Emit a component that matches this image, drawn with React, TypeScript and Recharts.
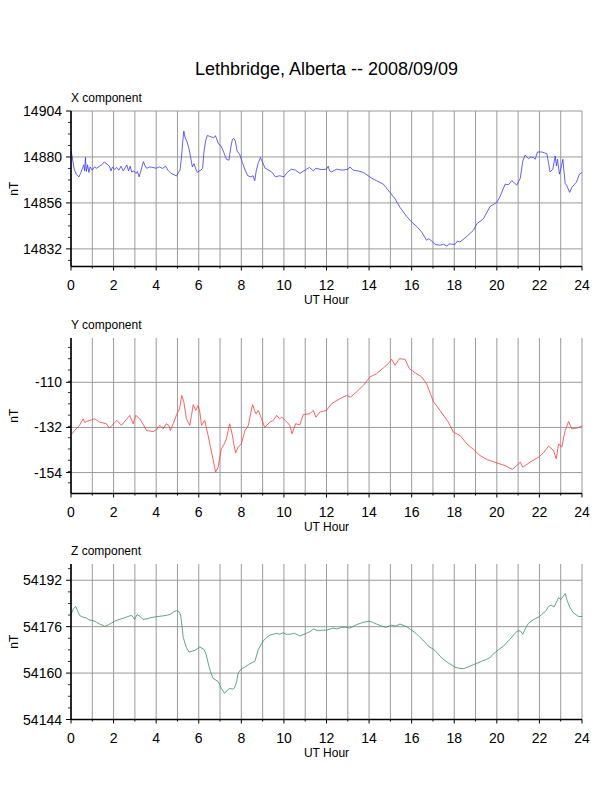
import { CartesianGrid, Line, LineChart, XAxis, YAxis } from "recharts";

const FONT = "'Liberation Sans', Arial, Helvetica, sans-serif";

const hourGrid = [0, 1, 2, 3, 4, 5, 6, 7, 8, 9, 10, 11, 12, 13, 14, 15, 16, 17, 18, 19, 20, 21, 22, 23, 24];
const hourLabels = [0, 2, 4, 6, 8, 10, 12, 14, 16, 18, 20, 22, 24];

// X component
const xHours = [
  0, 0.05, 0.15, 0.25, 0.37, 0.45, 0.55, 0.6, 0.64, 0.68, 0.72, 0.78, 0.84, 0.9, 1.0, 1.1, 1.2, 1.35, 1.45, 1.56,
  1.7, 1.8, 1.88, 1.95, 2.05, 2.15, 2.25, 2.35, 2.45, 2.55, 2.62, 2.7, 2.78, 2.85, 2.95, 3.05, 3.12, 3.2, 3.28, 3.4,
  3.48, 3.55, 3.7, 3.85, 4.0, 4.15, 4.3, 4.45, 4.55, 4.7, 4.85, 4.95, 5.05, 5.12, 5.18, 5.25, 5.3, 5.35, 5.45, 5.55,
  5.62, 5.7, 5.78, 5.85, 5.93, 6.02, 6.1, 6.18, 6.25, 6.32, 6.4, 6.5, 6.6, 6.7, 6.78, 6.85, 6.92, 7.05, 7.15, 7.3,
  7.42, 7.5, 7.58, 7.65, 7.72, 7.8, 7.92, 8.05, 8.18, 8.3, 8.45, 8.55, 8.63, 8.7, 8.8, 8.9, 9.0, 9.12, 9.3, 9.45,
  9.6, 9.8, 10.0, 10.15, 10.35, 10.55, 10.75, 11.06, 11.2, 11.38, 11.5, 11.75, 12.0, 12.08, 12.15, 12.24, 12.47,
  12.75, 13.02, 13.1, 13.26, 13.5, 13.73, 13.96, 14.12, 14.35, 14.67, 14.98, 15.22, 15.45, 15.77, 16.0, 16.24,
  16.47, 16.7, 16.8, 16.94, 17.1, 17.33, 17.5, 17.65, 17.8, 17.88, 18.04, 18.15, 18.27, 18.59, 18.9, 19.06, 19.37,
  19.68, 20.0, 20.15, 20.39, 20.55, 20.7, 20.85, 20.94, 21.1, 21.22, 21.33, 21.49, 21.6, 21.72, 21.8, 21.91, 22.11,
  22.25, 22.35, 22.5, 22.63, 22.74, 22.8, 22.85, 22.94, 23.02, 23.1, 23.21, 23.29, 23.42, 23.52, 23.73, 23.88, 24.0,
];
const xValues = [
  14883.1, 14880.5, 14873.6, 14871.0, 14869.6, 14871.4, 14874.5, 14875.9, 14872.7, 14879.7, 14872.4, 14875.9,
  14871.9, 14874.8, 14873.1, 14874.8, 14874.1, 14875.3, 14875.9, 14877.4, 14876.2, 14875.3, 14872.7, 14874.8,
  14873.4, 14874.5, 14873.1, 14875.2, 14872.7, 14874.5, 14875.9, 14872.7, 14875.2, 14872.1, 14872.7, 14871.4,
  14872.4, 14869.6, 14872.7, 14877.6, 14875.3, 14874.1, 14874.8, 14874.5, 14874.1, 14874.8, 14874.0, 14875.2,
  14873.1, 14871.4, 14870.7, 14870.0, 14871.9, 14873.1, 14878.8, 14888.3, 14893.5, 14890.4, 14887.9, 14884.0,
  14879.7, 14874.8, 14876.5, 14874.1, 14871.9, 14872.7, 14873.1, 14874.1, 14883.1, 14888.3, 14891.2, 14890.8,
  14890.4, 14890.0, 14891.1, 14889.2, 14886.9, 14885.7, 14883.1, 14878.8, 14878.3, 14884.8, 14889.2, 14889.7,
  14888.3, 14883.1, 14881.4, 14877.1, 14873.1, 14870.2, 14869.6, 14870.2, 14867.6, 14872.7, 14877.1, 14879.7,
  14877.1, 14874.1, 14873.1, 14871.9, 14869.6, 14870.2, 14869.6, 14871.9, 14873.6, 14873.1, 14871.4, 14873.6,
  14874.5, 14872.7, 14874.1, 14873.4, 14873.6, 14875.2, 14872.7, 14872.2, 14873.6, 14873.1, 14873.6, 14874.8,
  14873.1, 14872.7, 14871.9, 14870.2, 14868.9, 14867.6, 14865.8, 14861.5, 14858.1, 14853.7, 14848.9, 14846.0,
  14843.7, 14840.8, 14836.5, 14837.3, 14836.1, 14834.4, 14833.9, 14834.4, 14833.5, 14834.7, 14834.4, 14834.4,
  14836.1, 14835.6, 14838.5, 14841.7, 14845.1, 14847.7, 14854.1, 14856.3, 14859.3, 14865.8, 14865.5, 14867.6,
  14866.2, 14865.3, 14868.9, 14877.9, 14881.0, 14879.1, 14880.0, 14879.7, 14878.8, 14882.6, 14882.6, 14882.1,
  14881.7, 14872.2, 14873.6, 14880.5, 14875.3, 14878.8, 14871.0, 14874.5, 14878.8, 14866.2, 14865.0, 14861.5,
  14864.1, 14866.7, 14871.0, 14871.9,
];

// Y component
const yHours = [
  0, 0.17, 0.4, 0.57, 0.65, 0.72, 0.85, 0.96, 1.11, 1.35, 1.66, 1.8, 1.92, 2.05, 2.16, 2.37, 2.6, 2.76, 2.92, 3.04,
  3.23, 3.4, 3.55, 3.86, 4.02, 4.17, 4.33, 4.48, 4.6, 4.67, 4.8, 4.96, 5.1, 5.2, 5.3, 5.42, 5.58, 5.66, 5.74, 5.86,
  5.97, 6.05, 6.13, 6.28, 6.44, 6.55, 6.67, 6.79, 6.91, 7.06, 7.2, 7.3, 7.45, 7.55, 7.62, 7.73, 7.85, 8.0, 8.17,
  8.33, 8.45, 8.53, 8.62, 8.69, 8.8, 8.95, 9.1, 9.34, 9.5, 9.66, 9.8, 9.9, 10.14, 10.28, 10.38, 10.55, 10.75, 10.9,
  11.22, 11.38, 11.5, 11.69, 12.0, 12.24, 12.63, 12.94, 13.13, 13.41, 13.73, 14.04, 14.35, 14.67, 14.9, 15.06,
  15.22, 15.42, 15.69, 15.89, 16.16, 16.47, 16.7, 17.02, 17.33, 17.72, 17.96, 18.27, 18.59, 18.9, 19.21, 19.53,
  20.0, 20.39, 20.73, 20.9, 21.1, 21.22, 21.56, 21.96, 22.19, 22.43, 22.66, 22.79, 22.9, 23.05, 23.21, 23.37,
  23.52, 23.76, 24.0,
];
const yValues = [
  -135.6, -133.5, -131.0, -127.8, -129.7, -129.1, -128.7, -128.3, -127.8, -129.4, -130.2, -132.3, -131.0, -129.7,
  -128.6, -131.0, -128.1, -126.1, -130.2, -126.1, -127.8, -130.7, -133.5, -134.0, -133.1, -131.0, -132.7, -130.2,
  -131.0, -133.5, -130.2, -125.8, -122.9, -116.4, -119.6, -127.8, -131.0, -126.1, -120.9, -123.7, -121.3, -124.5,
  -131.0, -128.6, -135.9, -141.6, -147.3, -153.8, -151.4, -142.4, -140.0, -137.5, -130.2, -134.3, -138.4, -144.5,
  -141.6, -140.0, -133.5, -131.0, -124.5, -120.9, -123.7, -125.4, -123.7, -127.8, -132.0, -129.4, -128.6, -126.1,
  -127.8, -127.0, -129.4, -131.0, -135.1, -130.2, -130.7, -125.8, -125.3, -123.7, -127.0, -124.5, -123.7, -120.4,
  -118.0, -116.4, -117.2, -114.7, -111.5, -107.4, -105.8, -103.0, -100.9, -98.8, -101.7, -98.5, -98.8, -103.3,
  -105.3, -107.4, -110.7, -119.3, -123.7, -129.4, -134.3, -135.9, -140.0, -142.7, -145.7, -147.6, -149.3, -150.6,
  -152.5, -150.9, -148.9, -151.4, -148.9, -146.5, -144.4, -141.1, -143.2, -147.3, -140.0, -141.6, -133.5, -129.1,
  -132.7, -132.3, -131.3,
];

// Z component
const zHours = [
  0, 0.12, 0.22, 0.3, 0.4, 0.55, 0.72, 0.85, 1.03, 1.2, 1.35, 1.58, 1.75, 1.89, 2.05, 2.2, 2.45, 2.67, 2.84, 2.99,
  3.1, 3.25, 3.38, 3.55, 3.7, 3.9, 4.09, 4.3, 4.48, 4.65, 4.8, 4.96, 5.08, 5.15, 5.22, 5.27, 5.42, 5.55, 5.7, 5.82,
  6.05, 6.24, 6.35, 6.44, 6.55, 6.67, 6.8, 6.91, 7.06, 7.22, 7.35, 7.45, 7.6, 7.68, 7.78, 7.85, 8.0, 8.15, 8.33,
  8.5, 8.64, 8.8, 9.03, 9.2, 9.34, 9.5, 9.66, 9.8, 9.97, 10.1, 10.28, 10.5, 10.75, 11.06, 11.25, 11.38, 11.61, 11.8,
  12.0, 12.32, 12.5, 12.71, 12.9, 13.1, 13.41, 13.73, 14.01, 14.2, 14.35, 14.6, 14.79, 15.06, 15.25, 15.45, 15.77,
  16.0, 16.2, 16.39, 16.6, 16.78, 17.02, 17.2, 17.33, 17.5, 17.72, 17.9, 18.04, 18.2, 18.43, 18.65, 18.9, 19.1,
  19.29, 19.5, 19.68, 19.85, 20.0, 20.31, 20.62, 20.8, 20.94, 21.1, 21.22, 21.35, 21.49, 21.65, 21.8, 22.0, 22.11,
  22.3, 22.43, 22.55, 22.69, 22.8, 22.9, 23.0, 23.1, 23.21, 23.3, 23.42, 23.6, 23.84, 24.0,
];
const zValues = [
  54180.2, 54182.2, 54183.0, 54181.6, 54179.9, 54179.3, 54179.0, 54178.3, 54178.1, 54177.5, 54176.9, 54176.1,
  54176.6, 54177.2, 54177.9, 54178.3, 54178.9, 54179.5, 54179.9, 54178.5, 54180.2, 54179.5, 54178.5, 54178.7,
  54179.0, 54179.3, 54179.5, 54179.7, 54179.9, 54180.2, 54181.0, 54181.6, 54181.0, 54179.9, 54175.8, 54172.3,
  54168.8, 54167.2, 54167.6, 54167.8, 54169.0, 54168.2, 54166.4, 54163.5, 54160.6, 54158.2, 54157.6, 54157.1,
  54154.7, 54153.0, 54154.2, 54154.7, 54154.5, 54154.9, 54157.1, 54160.0, 54161.4, 54162.0, 54162.9, 54163.6,
  54164.1, 54168.2, 54171.1, 54172.3, 54173.1, 54173.4, 54173.7, 54173.4, 54173.9, 54173.4, 54173.4, 54173.7,
  54172.8, 54173.7, 54174.4, 54175.2, 54174.6, 54174.8, 54174.8, 54175.5, 54175.2, 54175.8, 54175.8, 54175.5,
  54176.7, 54177.5, 54177.9, 54177.4, 54176.9, 54176.2, 54175.8, 54176.5, 54176.2, 54176.9, 54176.0, 54174.8,
  54173.7, 54172.3, 54170.9, 54169.3, 54168.2, 54167.0, 54165.8, 54164.7, 54163.5, 54162.7, 54162.0, 54161.7,
  54161.5, 54162.1, 54162.9, 54163.5, 54164.1, 54164.7, 54165.3, 54166.7, 54167.6, 54169.3, 54171.7, 54173.2,
  54174.4, 54174.6, 54173.4, 54175.5, 54177.2, 54178.1, 54178.7, 54179.5, 54180.2, 54181.4, 54183.0, 54183.4,
  54182.8, 54184.5, 54186.0, 54185.3, 54186.3, 54187.4, 54185.1, 54182.8, 54180.7, 54179.5, 54179.5,
];

const xMajor = [14832, 14856, 14880, 14904];
const xMinor = [14826, 14832, 14838, 14844, 14850, 14856, 14862, 14868, 14874, 14880, 14886, 14892, 14898, 14904];
const yMajor = [-154, -132, -110];
const yMinor = [-159, -153.5, -148, -142.5, -137, -131.5, -126, -120.5, -115, -109.5, -104, -98.5, -93];
const zMajor = [54144, 54160, 54176, 54192];
const zMinor = [54144, 54148, 54152, 54156, 54160, 54164, 54168, 54172, 54176, 54180, 54184, 54188, 54192, 54196];

type PanelProps = {
  title: string;
  top: number;
  hours: number[];
  values: number[];
  color: string;
  domain: [number, number];
  major: number[];
  minor: number[];
};

function Panel({ title, top, hours, values, color, domain, major, minor }: PanelProps) {
  const data = hours.map((h, i) => ({ h, v: values[i] }));
  const yTicks = Array.from(new Set([...minor, ...major])).sort((a, b) => a - b);

  const leftTick = (p: any) => {
    const isMajor = major.includes(p.payload.value);
    return (
      <g>
        <line x1={p.x} x2={p.x - (isMajor ? 5 : 3)} y1={p.y} y2={p.y} stroke="#000" strokeWidth={isMajor ? 1 : 0.8} />
        {isMajor && (
          <text x={p.x - 9} y={p.y} dy={5} textAnchor="end" fontSize={14} fontFamily={FONT} fill="#000">
            {p.payload.value}
          </text>
        )}
      </g>
    );
  };

  const rightTick = (p: any) => {
    const isMajor = major.includes(p.payload.value);
    return (
      <line x1={p.x} x2={p.x + (isMajor ? 5 : 3)} y1={p.y} y2={p.y} stroke="#000" strokeWidth={isMajor ? 1 : 0.8} />
    );
  };

  const bottomTick = (p: any) => {
    const isLabel = hourLabels.includes(p.payload.value);
    return (
      <g>
        <line x1={p.x} x2={p.x} y1={p.y} y2={p.y + (isLabel ? 4 : 2)} stroke="#000" strokeWidth={1} />
        {isLabel && (
          <text x={p.x} y={p.y + 23} textAnchor="middle" fontSize={14} fontFamily={FONT} fill="#000">
            {p.payload.value}
          </text>
        )}
      </g>
    );
  };

  const topTick = (p: any) => {
    const isLabel = hourLabels.includes(p.payload.value);
    return <line x1={p.x} x2={p.x} y1={p.y} y2={p.y - (isLabel ? 4 : 2)} stroke="#000" strokeWidth={1} />;
  };

  const frame = { stroke: "#000", strokeWidth: 1.6 };

  return (
    <div style={{ position: "absolute", left: 0, top: top - 40, width: 612, height: 240 }}>
      <div
        style={{
          position: "absolute",
          left: 71,
          top: 21,
          fontSize: 12,
          fontFamily: FONT,
          lineHeight: "12px",
          color: "#000",
        }}
      >
        {title}
      </div>
      <LineChart width={612} height={240} data={data} margin={{ top: 40, right: 30, bottom: 7.5, left: 0 }}>
        <CartesianGrid
          stroke="#9a9a9a"
          strokeWidth={1}
          verticalValues={hourGrid}
          horizontalValues={major}
        />
        <XAxis
          dataKey="h"
          type="number"
          domain={[0, 24]}
          ticks={hourGrid}
          interval={0}
          height={37}
          tickSize={0}
          tickMargin={0}
          tickLine={false}
          axisLine={frame}
          tick={bottomTick}
          allowDataOverflow
          label={{ value: "UT Hour", position: "insideBottom", offset: 0, fontSize: 12, fontFamily: FONT, fill: "#000" }}
        />
        <XAxis
          xAxisId="top"
          orientation="top"
          dataKey="h"
          type="number"
          domain={[0, 24]}
          ticks={hourGrid}
          interval={0}
          height={0}
          tickSize={0}
          tickMargin={0}
          tickLine={false}
          axisLine={frame}
          tick={topTick}
          allowDataOverflow
        />
        <YAxis
          type="number"
          domain={domain}
          ticks={yTicks}
          interval={0}
          width={71}
          tickSize={0}
          tickMargin={0}
          tickLine={false}
          axisLine={frame}
          tick={leftTick}
          allowDataOverflow
          label={{
            value: "nT",
            angle: -90,
            position: "insideLeft",
            offset: 14,
            fontSize: 12,
            fontFamily: FONT,
            fill: "#000",
            style: { textAnchor: "middle" },
          }}
        />
        <YAxis
          yAxisId="right"
          orientation="right"
          type="number"
          domain={domain}
          ticks={yTicks}
          interval={0}
          width={0}
          tickSize={0}
          tickMargin={0}
          tickLine={false}
          axisLine={frame}
          tick={rightTick}
          allowDataOverflow
        />
        <Line
          dataKey="v"
          type="linear"
          stroke={color}
          strokeWidth={0.8}
          dot={false}
          isAnimationActive={false}
        />
      </LineChart>
    </div>
  );
}

export default function App() {
  return (
    <div style={{ position: "absolute", left: 0, top: 0, width: 612, height: 792, background: "#fff" }}>
      <div
        style={{
          position: "absolute",
          left: 71,
          width: 511,
          top: 58,
          textAlign: "center",
          fontSize: 18,
          lineHeight: "22px",
          fontFamily: FONT,
          color: "#000",
        }}
      >
        Lethbridge, Alberta -- 2008/09/09
      </div>
      <Panel
        title="X component"
        top={110.7}
        hours={xHours}
        values={xValues}
        color="#3838ff"
        domain={[14822.8, 14904]}
        major={xMajor}
        minor={xMinor}
      />
      <Panel
        title="Y component"
        top={337.7}
        hours={yHours}
        values={yValues}
        color="#ff3a3a"
        domain={[-164.2, -88.4]}
        major={yMajor}
        minor={yMinor}
      />
      <Panel
        title="Z component"
        top={564.3}
        hours={zHours}
        values={zValues}
        color="#3a8f62"
        domain={[54144, 54197.6]}
        major={zMajor}
        minor={zMinor}
      />
    </div>
  );
}
